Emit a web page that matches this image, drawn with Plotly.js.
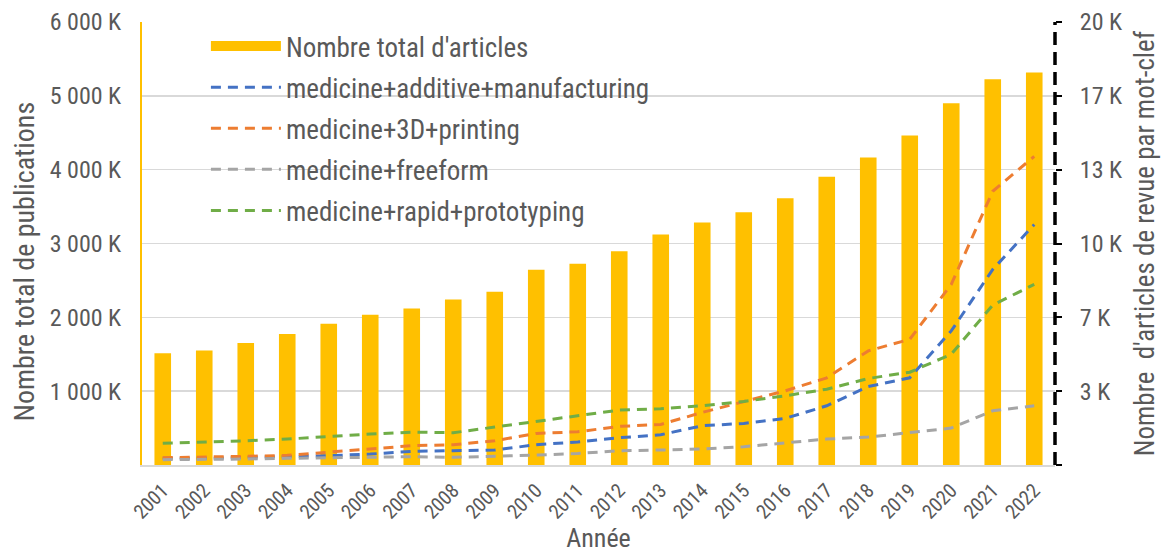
<!DOCTYPE html>
<html>
<head>
<meta charset="utf-8">
<script src="https://cdn.plot.ly/plotly-3.0.1.min.js"></script>
<style>html,body{margin:0;padding:0;background:#fff;}#chart{width:1166px;height:553px;}</style>
</head>
<body>
<div id="chart"></div>
<script>
var years = ['2001','2002','2003','2004','2005','2006','2007','2008','2009','2010','2011','2012','2013','2014','2015','2016','2017','2018','2019','2020','2021','2022'];
// Total number of articles (in thousands)
var totalArticles = [1514,1550,1653,1775,1914,2036,2121,2243,2347,2644,2725,2896,3122,3284,3423,3612,3905,4166,4464,4901,5225,5315];
// Review articles per keyword
var additiveManufacturing = [300,300,345,375,420,495,616,646,676,916,1040,1231,1366,1772,1877,2103,2673,3544,3935,6052,8829,10856];
var printing3D = [330,345,390,435,570,721,871,916,1096,1426,1500,1742,1832,2373,2868,3349,3935,5150,5676,8154,12360,13934];
var freeform = [240,240,270,300,315,345,375,345,390,450,520,646,676,721,826,991,1171,1261,1471,1667,2448,2673];
var rapidPrototyping = [977,1021,1096,1171,1300,1396,1486,1456,1712,1967,2200,2478,2538,2673,2868,3124,3424,3905,4190,5000,7223,8154];

var leftTickVals = [1000,2000,3000,4000,5000,6000];
var leftTickText = ['1 000 K','2 000 K','3 000 K','4 000 K','5 000 K','6 000 K'];
var rightTickVals = [0,20000/6,40000/6,10000,80000/6,100000/6,20000];
var rightTickText = ['','3 K','7 K','10 K','13 K','17 K','20 K'];

var FONT = '"Roboto Condensed", Roboto, sans-serif';
var GREY = '#595959';
var dashPat = '10px,7px';
var traces = [
  {type:'bar', x:years, y:totalArticles, name:"Nombre total d'articles", marker:{color:'#FFC000'}, showlegend:false, hoverinfo:'x+y'},
  {type:'scatter', mode:'lines', x:[null], y:[null], name:"Nombre total d'articles", line:{color:'#FFC000', width:14}, legendgroup:'g0', hoverinfo:'skip'},
  {type:'scatter', mode:'lines', x:years, y:additiveManufacturing, yaxis:'y2', name:'medicine+additive+manufacturing', line:{color:'#4472C4', width:3, dash:dashPat}, legendgroup:'g1'},
  {type:'scatter', mode:'lines', x:years, y:printing3D, yaxis:'y2', name:'medicine+3D+printing', line:{color:'#ED7D31', width:3, dash:dashPat}, legendgroup:'g2'},
  {type:'scatter', mode:'lines', x:years, y:freeform, yaxis:'y2', name:'medicine+freeform', line:{color:'#A5A5A5', width:3, dash:dashPat}, legendgroup:'g3'},
  {type:'scatter', mode:'lines', x:years, y:rapidPrototyping, yaxis:'y2', name:'medicine+rapid+prototyping', line:{color:'#70AD47', width:3, dash:dashPat}, legendgroup:'g4'}
];

var layout = {
  width:1166, height:553,
  margin:{l:142, r:111, t:22, b:88},
  paper_bgcolor:'#fff', plot_bgcolor:'#fff',
  font:{family:FONT, color:GREY, size:24},
  bargap:0.6,
  showlegend:true,
  legend:{x:0.07, y:1.0, xanchor:'left', yanchor:'top', bgcolor:'rgba(0,0,0,0)', font:{family:FONT, size:27, color:GREY}, itemwidth:70, traceorder:'grouped', tracegroupgap:3},
  xaxis:{type:'category', tickangle:-45, tickfont:{family:FONT, size:20, color:GREY}, showline:true, linecolor:'#D9D9D9', linewidth:2, ticks:'', showgrid:false, ticklabelstandoff:4,
         title:{text:'Année', font:{family:FONT, size:26, color:GREY}, standoff:12}},
  yaxis:{range:[0,6000], tickvals:leftTickVals, ticktext:leftTickText, showgrid:true, gridcolor:'#D9D9D9', gridwidth:1.5, zeroline:false,
         showline:true, linecolor:'#FFC000', linewidth:2, ticks:'', ticklabelstandoff:14, tickfont:{family:FONT, size:24, color:GREY}},
  yaxis2:{overlaying:'y', side:'right', range:[0,20000], tickvals:rightTickVals, ticktext:rightTickText, showgrid:false, zeroline:false,
          ticks:'outside', ticklen:6, tickwidth:2, tickcolor:'#000', ticklabelstandoff:13, tickfont:{family:FONT, size:24, color:GREY},
          title:{text:'Nombre\u00a0 d\'articles de revue par mot-clef', font:{family:FONT, size:27, color:GREY}, standoff:14}},
  annotations:[{text:'Nombre total de publications', xref:'paper', yref:'paper', x:-0.129, y:0.46, xanchor:'center', yanchor:'middle', textangle:-90, showarrow:false, font:{family:FONT, size:28, color:GREY}}],
  shapes:[{type:'line', xref:'paper', yref:'paper', x0:1, x1:1, y0:0, y1:1, line:{color:'#000', width:3.5, dash:'13px,7px'}, layer:'above'}]
};

Plotly.newPlot('chart', traces, layout, {displayModeBar:false, staticPlot:true});
</script>
</body>
</html>
